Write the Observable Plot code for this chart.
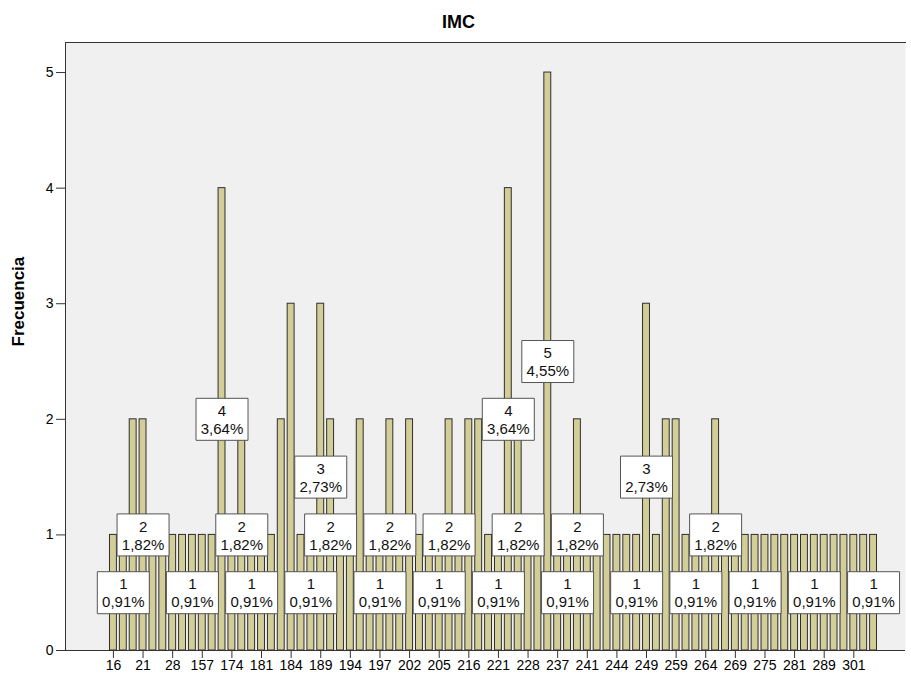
<!DOCTYPE html>
<html><head><meta charset="utf-8">
<script src="https://cdn.jsdelivr.net/npm/d3@7"></script>
<script src="https://cdn.jsdelivr.net/npm/@observablehq/plot@0.6"></script>
<style>body{margin:0;background:#fff;}</style>
</head><body><div id="chart"></div>
<script>
// IMC categories (every third one is labelled on the axis)
const categories = ["16","19","20","21","24","26","28","30","152","157","163","169","174","176","179","181","182","183","184","186","187","189","191","192","194","195","196","197","199","201","202","203","204","205","208","212","216","218","219","221","223","225","228","231","234","237","238","239","241","242","243","244","246","248","249","252","255","259","260","262","264","266","268","269","271","273","275","277","279","281","284","286","289","292","296","301","305","310"];
// Frequencies
const counts = [1,1,2,2,1,1,1,1,1,1, 1,4,1,2,1,1,1,2,3,1, 1,3,2,1,1,2,1,1,2,1, 2,1,1,1,2,1,2,2,1,1, 4,2,1,1,5,1,1,2,1,1, 1,1,1,1,3,1,2,2,1,1, 1,2,1,1,1,1,1,1,1,1, 1,1,1,1,1,1,1,1];
// Categories whose data label box is visible in the original
const labeledCategories = ["19","152","179","187","197","205","221","238","248","262","273","286","310","21","176","191","199","208","225","239","266","189","249","169","223","234"];
const yTicks = [0,1,2,3,4,5];
const title = "IMC";
const yLabel = "Frecuencia";

const total = d3.sum(counts);
const data = categories.map((c, i) => ({
  cat: c,
  count: counts[i],
  pct: (counts[i] / total * 100).toFixed(2).replace(".", ",") + "%"
}));
const labels = data.filter(d => labeledCategories.includes(d.cat));
const xTickValues = categories.filter((d, i) => i % 3 === 0);

const boxSymbol = {
  draw(ctx) {
    ctx.moveTo(-26, -21); ctx.lineTo(26, -21); ctx.lineTo(26, 21); ctx.lineTo(-26, 21); ctx.closePath();
  }
};

const chart = Plot.plot({
  width: 911, height: 677,
  marginLeft: 65, marginRight: 6, marginTop: 42, marginBottom: 27,
  style: {fontFamily: "'Liberation Sans', Arial, sans-serif", fontSize: "14px", background: "white", color: "#000"},
  x: {type: "band", domain: categories, paddingInner: 0.3, paddingOuter: 0.15, insetLeft: 43, insetRight: 27},
  y: {domain: [0, 5.26]},
  marks: [
    Plot.frame({fill: "#f0f0f0", stroke: null}),
    Plot.frame({anchor: "left", stroke: "#333"}),
    Plot.frame({anchor: "top", stroke: "#333"}),
    Plot.barY(data, {x: "cat", y: "count", fill: "#d3ce97", stroke: "#2e2e2e", strokeWidth: 1}),
    Plot.ruleY([0], {stroke: "#333"}),
    Plot.axisY(yTicks, {tickSize: 9, tickPadding: 3, label: null, fontSize: 14, stroke: "#333", tickFormat: d3.format("d")}),
    Plot.axisX(xTickValues, {tickSize: 8, tickPadding: 2, label: null, fontSize: 14, stroke: "#333"}),
    Plot.dot(labels, {x: "cat", y: d => d.count / 2, symbol: boxSymbol, r: 5, fill: "white", stroke: "#555", strokeWidth: 1}),
    Plot.text(labels, {x: "cat", y: d => d.count / 2, text: d => `${d.count}\n${d.pct}`, lineHeight: 1.2, fontSize: 15, fill: "#111"}),
    Plot.text([title], {frameAnchor: "top", lineAnchor: "middle", dy: -20, dx: -27, fontWeight: "bold", fontSize: 18}),
    Plot.text([yLabel], {frameAnchor: "left", lineAnchor: "middle", dx: -47, rotate: -90, fontWeight: "bold", fontSize: 17})
  ]
});
document.getElementById("chart").appendChild(chart);
</script>
</body></html>
